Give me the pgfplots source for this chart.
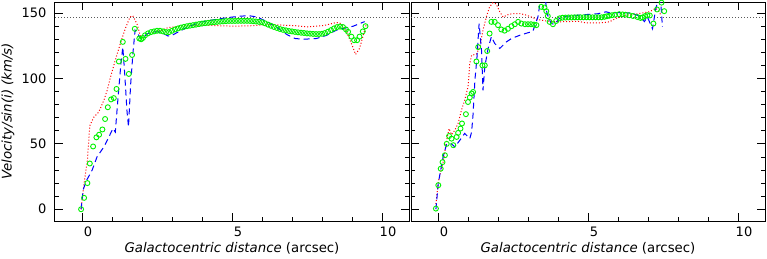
\documentclass[border=0pt]{standalone}
\usepackage{fontspec}
\setmainfont{DejaVu Sans}
\usepackage{pgfplots}
\pgfplotsset{compat=1.18}

\definecolor{cred}{rgb}{1,0,0}
\definecolor{cblue}{rgb}{0,0,1}
\definecolor{cgreen}{rgb}{0,0.95,0}

\pgfplotsset{
  panel/.style={
    scale only axis, width=354pt, height=219pt,
    xmin=-0.9, xmax=10.9, ymin=-9, ymax=158.5,
    xtick={0,5,10}, minor x tick num=4,
    ytick={0,50,100,150}, minor y tick num=4,
    tick align=inside, major tick length=8pt, minor tick length=4pt,
    axis line style={line width=1pt},
    every tick/.style={line width=0.8pt, black},
    /pgf/number format/assume math mode=true,
    tick label style={font=\fontsize{13}{15}\selectfont},
    xticklabel style={xshift=6pt, yshift=-2pt},
    yticklabel style={xshift=-5pt},
    xlabel style={at={(axis description cs:0.5,0)}, anchor=base, yshift=-31pt, font=\fontsize{13.3}{15}\selectfont},
    ylabel style={at={(axis description cs:-0.133,0.5)}, anchor=center, font=\fontsize{13.3}{15}\selectfont},
    xlabel={\itshape Galactocentric distance\/\upshape{} (arcsec)},
  },
  redl/.style={cred, line width=1pt, dash pattern=on 1pt off 2pt},
  bluel/.style={cblue, line width=1pt, dash pattern=on 6pt off 4pt},
  greenm/.style={only marks, mark=o, mark size=2.5pt, cgreen, mark options={line width=0.9pt}},
  refl/.style={gray!70!black, line width=1pt, dash pattern=on 1pt off 2pt},
}

\begin{document}
\begin{tikzpicture}
\begin{axis}[panel, name=left, ylabel={\itshape Velocity/sin(i) (km/s)}]
\addplot[refl] coordinates {(-0.9,146.3) (10.9,146.3)};
\addplot[redl] coordinates {
(-0.03,0) (0.07,20) (0.18,37.5) (0.26,64) (0.4,70.6) (0.56,74.4) (0.73,83.4)
(0.84,91) (0.95,101) (1.11,114) (1.28,126.8) (1.44,138) (1.6,147) (1.69,148)
(1.83,142) (1.94,133) (2.05,130.6) (2.27,134.4) (2.6,136.5) (2.87,138.9)
(3.42,140.4) (3.97,140.8) (4.52,140.4) (5.07,140) (5.73,140.4) (6.17,141.4)
(6.73,140.8) (7.1,140.4) (7.49,139.5) (8.04,140.4) (8.48,142.8) (8.65,142)
(8.81,136.2) (8.98,126.8) (9.12,118.4) (9.25,123) (9.36,131.8) (9.47,140.8)
};
\addplot[bluel] coordinates {
(-0.03,0) (0.04,15) (0.15,22) (0.34,30) (0.5,40) (0.73,47.7) (0.89,55)
(1.03,61.7) (1.11,59) (1.2,85) (1.3,112) (1.36,124) (1.42,105) (1.5,75)
(1.55,63) (1.62,95) (1.7,120) (1.77,137) (1.85,135) (1.94,130.6) (2.05,131.5)
(2.16,134) (2.35,135.5) (2.54,135.7) (2.7,134.5) (2.87,132.5) (3.0,133)
(3.2,135.5) (3.53,139.5) (3.97,143.3) (4.52,145.4) (4.9,146.7) (5.29,147.7)
(5.57,148) (5.84,147) (6.06,144.6) (6.39,140.8) (6.83,133.6) (7.1,130.6)
(7.38,130) (7.82,130.6) (8.15,133) (8.48,137) (8.76,138.5) (9.04,140) (9.42,143.5)
};
\addplot[greenm] coordinates {
(-0.03,0) (0.07,8.7) (0.18,20) (0.26,35) (0.37,48) (0.48,55) (0.57,57)
(0.68,61) (0.77,69) (0.86,78) (0.97,84) (1.06,85) (1.15,92) (1.23,113)
(1.36,128) (1.45,115) (1.56,103.5) (1.67,118) (1.76,138) (1.91,130.6)
(1.97,130) (2.03,131)
(2.1,133) (2.2,134.5) (2.3,135.5) (2.4,136) (2.5,136.5) (2.6,136.5) (2.7,136)
(2.8,135.5) (2.9,135.5) (3.0,136.5) (3.1,137.5) (3.2,138.3) (3.3,139) (3.4,139.5)
(3.5,140) (3.6,140.4) (3.7,140.8) (3.8,141.2) (3.9,141.6) (4.0,142) (4.1,142.3)
(4.2,142.6) (4.3,142.9) (4.4,143.1) (4.5,143.3) (4.6,143.5) (4.7,143.7) (4.8,143.9)
(4.9,144) (5.0,144) (5.1,144) (5.2,144.1) (5.3,144.1) (5.4,144.1) (5.5,144.1)
(5.6,144) (5.7,143.8) (5.8,143.6) (5.9,143.3) (6.0,143) (6.1,142.2) (6.2,141.2)
(6.3,140.3) (6.4,139.4) (6.5,138.6) (6.6,137.8) (6.7,137.2) (6.8,136.8) (6.9,136.3)
(7.0,136) (7.1,135.6) (7.2,135.3) (7.3,135) (7.4,134.8) (7.5,134.5) (7.6,134.3)
(7.7,134.1) (7.8,134) (7.9,134) (8.0,134.2) (8.1,134.8) (8.2,135.8) (8.3,137)
(8.4,138.3) (8.5,139.3) (8.6,139.7) (8.7,139.3) (8.8,137.5) (8.87,135.7)
(8.98,132) (9.07,129.3) (9.17,129.3) (9.25,132) (9.36,136) (9.45,140)
};
\end{axis}
\begin{axis}[panel, name=right, at={(356pt,0pt)}, yticklabels={}]
\addplot[refl] coordinates {(-0.9,146.3) (10.9,146.3)};
\addplot[redl] coordinates {
(-0.07,4) (0.01,21) (0.17,36) (0.29,52.8) (0.37,61.7) (0.45,57) (0.56,60.4)
(0.67,65.6) (0.78,75.7) (0.89,83.4) (1.0,93.6) (1.06,111.5) (1.12,117.8)
(1.28,118.6) (1.39,124) (1.5,137) (1.61,147) (1.72,154.8) (1.83,158) (1.94,157)
(2.06,151) (2.17,147) (2.33,148.8) (2.5,149.7) (2.72,149.7) (2.94,148.5)
(3.11,147) (3.33,145) (3.61,144) (4.05,143.3) (4.66,143.8) (4.94,142.5)
(5.38,142.5) (5.71,143.3) (5.93,146) (6.27,148.4) (6.71,149.7) (7.04,151)
(7.26,153.7) (7.37,151) (7.43,148.4)
};
\addplot[bluel] coordinates {
(-0.07,0) (0.01,20) (0.17,40) (0.29,50) (0.45,50) (0.56,47.7) (0.73,52.8)
(0.89,58) (1.06,54) (1.12,59) (1.17,73) (1.23,98.7) (1.3,116.5) (1.37,142)
(1.45,121.6) (1.5,91) (1.56,109) (1.67,123) (1.78,132) (1.89,126.8) (2.06,123)
(2.28,128) (2.45,130.6) (2.72,133) (3.0,135) (3.16,136) (3.33,147) (3.39,156)
(3.46,162) (3.52,162) (3.59,158.6) (3.63,150) (3.68,147) (3.77,142) (3.88,141.5)
(4.05,146) (4.33,147.7) (4.88,148.8) (5.32,149.5) (5.6,151) (5.77,150)
(6.1,150.5) (6.43,150) (6.65,148.4) (6.79,146) (6.88,143.5) (6.98,147)
(7.15,138) (7.26,153.7) (7.34,160) (7.42,160) (7.48,139.5)
};
\addplot[greenm] coordinates {
(-0.07,0.5) (0.01,18.4) (0.09,31) (0.15,36) (0.23,41.3) (0.29,50) (0.37,56)
(0.45,54) (0.51,49) (0.62,55.3) (0.67,58.4) (0.75,61.7) (0.8,65.6) (0.93,72.7)
(1.0,82) (1.06,85.5) (1.12,88.5) (1.17,89.7) (1.28,113) (1.34,124) (1.48,110)
(1.56,110) (1.64,121) (1.72,134.4) (1.78,143.3) (1.89,143.3) (2.0,140.8)
(2.11,137.5) (2.22,136.6) (2.33,138) (2.45,140) (2.56,141.5) (2.67,143.3)
(2.78,142) (2.9,141.5) (3.0,141.5) (3.1,141.5) (3.2,141.2) (3.28,140.8)
(3.44,154.8) (3.55,154.3) (3.61,151.5) (3.66,147.7) (3.72,143.3) (3.83,141.5)
(3.94,144) (4.05,146) (4.15,146.5) (4.25,146.6) (4.35,146.7) (4.45,146.7)
(4.55,146.8) (4.65,146.8) (4.75,146.8) (4.85,146.8) (4.95,146.8) (5.05,146.8)
(5.15,146.8) (5.25,146.8) (5.35,146.8) (5.45,146.8) (5.55,147.2) (5.63,147.6)
(5.71,148) (5.8,148.4) (5.9,148.8) (6.04,149.2) (6.15,149) (6.25,148.8)
(6.38,148.4) (6.5,147.8) (6.65,147) (6.75,146.3) (6.82,146.7) (6.9,147.7)
(6.98,148.4) (7.06,148.2) (7.18,142) (7.3,152.8) (7.45,158) (7.54,151.5)
};
\end{axis}
\pgfresetboundingbox
\path (-55pt,-37pt) rectangle (712pt,221pt);
\end{tikzpicture}
\end{document}
